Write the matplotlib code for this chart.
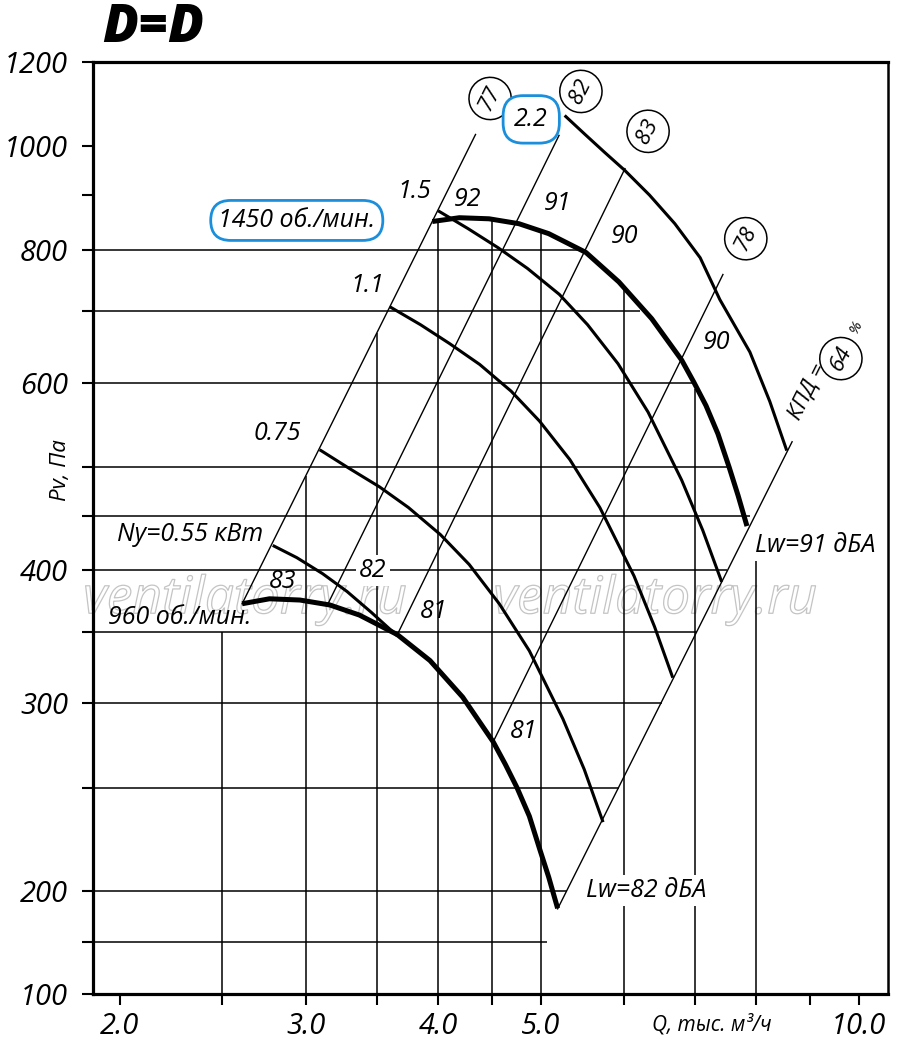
import numpy as np
import matplotlib
matplotlib.use("Agg")
import matplotlib.pyplot as plt
from matplotlib import patheffects as pe

# ---------------- data ----------------
# fan curves: Q (thousand m3/h), Pv (Pa)
q_960 = [2.61, 2.77, 2.96, 3.16, 3.37, 3.66, 3.93, 4.22, 4.51, 4.63, 4.75, 4.88, 4.99, 5.09, 5.19]
p_960 = [372, 376, 375, 371, 363, 348, 329, 304, 276, 263, 250, 235, 219, 206, 183]

q_1450 = [3.95, 4.19, 4.47, 4.77, 5.09, 5.52, 5.93, 6.37, 6.80, 6.98, 7.17, 7.36, 7.54, 7.69, 7.84]
p_1450 = [850, 857, 855, 846, 828, 795, 746, 689, 630, 601, 571, 537, 500, 470, 440]

q_055 = [2.79, 2.94, 3.11, 3.28, 3.46, 3.66]
p_055 = [422, 411, 397, 382, 365, 347]

q_075 = [3.09, 3.29, 3.52, 3.75, 4.02, 4.28, 4.57, 4.88, 5.25, 5.50, 5.73]
p_075 = [519, 499, 479, 458, 432, 405, 372, 336, 290, 260, 232]

q_11 = [3.60, 3.85, 4.10, 4.38, 4.69, 4.99, 5.33, 5.69, 6.13, 6.41, 6.67]
p_11 = [707, 680, 653, 624, 589, 552, 508, 458, 395, 354, 317]

q_15 = [4.00, 4.27, 4.56, 4.86, 5.21, 5.54, 5.92, 6.32, 6.80, 7.12, 7.42]
p_15 = [870, 837, 803, 768, 726, 680, 625, 563, 486, 436, 390]

q_22 = [5.27, 5.51, 5.75, 6.01, 6.34, 6.70, 7.08, 7.39, 7.89, 8.24, 8.55]
p_22 = [1069, 1026, 987, 949, 900, 846, 786, 718, 641, 576, 518]

# efficiency (system) lines: start / end points
eff_q0 = [2.61, 3.147, 3.66, 4.51, 5.19]
eff_p0 = [372, 372, 348, 276, 182.5]
eff_q1 = [4.34, 5.206, 6.01, 7.44, 8.65]
eff_p1 = [1026, 1024, 953, 758, 528]
eff_circles = ["77", "82", "83", "78", "64"]

# grid
h_grid_vals = [150, 200, 250, 300, 350, 400, 450, 500, 600, 700, 800]
h_grid_ends = [5.07, 5.30, 5.93, 6.51, 7.03, 7.51, 7.89, 7.52, 6.97, 6.21, 5.42]
v_grid_vals = [2.5, 3.0, 3.5, 4.0, 4.5, 5.0, 6.0, 7.0, 8.0]
v_grid_tops = [350, 490, 668, 850, 855, 833, 735, 592, 410]

x_ticks = [2.0, 2.5, 3.0, 3.5, 4.0, 4.5, 5.0, 6.0, 7.0, 8.0, 9.0, 10.0]
x_tick_labels = ["2.0", "", "3.0", "", "4.0", "", "5.0", "", "", "", "", "10.0"]
y_ticks = [100, 150, 200, 250, 300, 350, 400, 450, 500, 600, 700, 800, 900, 1000, 1200]
y_tick_labels = ["100", "", "200", "", "300", "", "400", "", "", "600", "", "800", "", "1000", "1200"]

# ---------------- style ----------------
plt.rcParams["font.family"] = ["Open Sans", "DejaVu Sans"]
plt.rcParams["font.style"] = "italic"
BLUE = "#1b8fdb"

LOG200 = np.log10(200.0)
K = 103.0 / 1063.0 / 100.0  # compressed section below 200 Pa


def fwd(y):
    y = np.asarray(y, dtype=float)
    with np.errstate(all="ignore"):
        return np.where(y >= 200, np.log10(np.where(y > 0, y, 1.0)), LOG200 - (200.0 - y) * K)


def inv(t):
    t = np.asarray(t, dtype=float)
    with np.errstate(all="ignore"):
        return np.where(t >= LOG200, 10.0 ** np.minimum(t, 300), 200.0 - (LOG200 - t) / K)


fig = plt.figure(figsize=(9, 10.5), dpi=100)
ax = fig.add_axes([93 / 900, 1 - 994 / 1050, 795 / 900, (994 - 62) / 1050])
ax.set_xscale("log")
ax.set_yscale("function", functions=(fwd, inv))
ax.set_xlim(1.886, 10.66)
ax.set_ylim(100, 1200)

ax.xaxis.set_minor_locator(matplotlib.ticker.NullLocator())
ax.yaxis.set_minor_locator(matplotlib.ticker.NullLocator())
ax.set_xticks(x_ticks)
ax.set_xticklabels(x_tick_labels)
ax.set_yticks(y_ticks)
ax.set_yticklabels(y_tick_labels)
ax.tick_params(direction="out", length=8, width=1.5, labelsize=21, color="black")
ax.tick_params(axis="y", pad=10)
ax.tick_params(axis="x", pad=5)
for s in ax.spines.values():
    s.set_linewidth(2.3)
ax.spines["right"].set_linewidth(1.8)

# grid lines (clipped by the envelope)
for v, e in zip(h_grid_vals, h_grid_ends):
    ax.plot([1.886, e], [v, v], color="black", lw=1.1, zorder=1, solid_capstyle="butt")
for v, t in zip(v_grid_vals, v_grid_tops):
    ax.plot([v, v], [100, t], color="black", lw=1.1, zorder=1, solid_capstyle="butt")

# efficiency lines
for q0, p0, q1, p1 in zip(eff_q0, eff_p0, eff_q1, eff_p1):
    ax.plot([q0, q1], [p0, p1], color="black", lw=1.0, zorder=2)

# fan curves
for qq, pp in ((q_075, p_075), (q_11, p_11), (q_15, p_15), (q_22, p_22), (q_055, p_055)):
    ax.plot(qq, pp, color="black", lw=2.2, zorder=3, solid_capstyle="butt", solid_joinstyle="round")
ax.plot(q_960, p_960, color="black", lw=3.6, zorder=3, solid_capstyle="butt", solid_joinstyle="round")
ax.plot(q_1450, p_1450, color="black", lw=3.6, zorder=3, solid_capstyle="butt", solid_joinstyle="round")

# watermark
for wx in (0.191, 0.707):
    ax.text(wx, 0.423, "ventilatorry.ru", transform=ax.transAxes, fontsize=37,
            ha="center", va="center", color="none", zorder=0.5,
            path_effects=[pe.Stroke(linewidth=0.9, foreground="#c4c4c4")])

ROT = 63.4
lab = dict(fontsize=18, ha="center", va="center", zorder=5)
white = dict(boxstyle="square,pad=0.12", fc="white", ec="none")

# circled efficiency numbers
circ_pos = [(4.48, 1109), (5.46, 1126), (6.32, 1033), (7.82, 819), (9.62, 632)]
for (cx, cy), t in zip(circ_pos, eff_circles):
    ax.text(cx, cy, t, fontsize=16, rotation=ROT, ha="center", va="center", zorder=5,
            rotation_mode="anchor",
            bbox=dict(boxstyle="circle,pad=0.4", fc="white", ec="black", lw=1.1))
ax.text(8.95, 589, "КПД =", fontsize=16, rotation=ROT, ha="center", va="center",
        rotation_mode="anchor", zorder=5)
ax.text(9.96, 676, "%", fontsize=11, rotation=ROT, ha="center", va="center",
        rotation_mode="anchor", zorder=5)

# boxed labels
ax.text(4.90, 1060, "2.2", fontsize=18, ha="center", va="center", zorder=6,
        bbox=dict(boxstyle="round,pad=0.45,rounding_size=0.8", fc="white", ec=BLUE, lw=2.0))
ax.text(2.94, 852, "1450 об./мин.", fontsize=18, ha="center", va="center", zorder=6,
        bbox=dict(boxstyle="round,pad=0.3,rounding_size=0.8", fc="white", ec=BLUE, lw=2.0))

# curve / line labels
ax.text(3.80, 907, "1.5", **lab)
ax.text(4.27, 892, "92", **lab)
ax.text(5.19, 884, "91", **lab)
ax.text(6.01, 823, "90", **lab)
ax.text(7.34, 654, "90", **lab)
ax.text(3.43, 740, "1.1", **lab)
ax.text(2.82, 538, "0.75", **lab)
ax.text(2.33, 432, "Ny=0.55 кВт", **lab)
ax.text(2.85, 390, "83", **lab)
ax.text(3.47, 400, "82", bbox=white, **lab)
ax.text(3.96, 366, "81", **lab)
ax.text(2.28, 361, "960 об./мин.", **lab)
ax.text(4.82, 282, "81", **lab)
ax.text(9.09, 422, "Lw=91 дБА", bbox=white, **lab)
ax.text(6.29, 200, "Lw=82 дБА", bbox=white, **lab)

# titles and axis labels
fig.text(0.17, 0.973, "D=D", fontsize=38, fontweight="heavy", fontstyle="italic",
         ha="center", va="center")
fig.text(0.067, 0.552, "Pv, Па", fontsize=16, rotation=90, ha="center", va="center")
fig.text(0.791, 0.024, "Q, тыс. м³/ч", fontsize=15, ha="center", va="center")

fig.savefig("out.png", dpi=100)
